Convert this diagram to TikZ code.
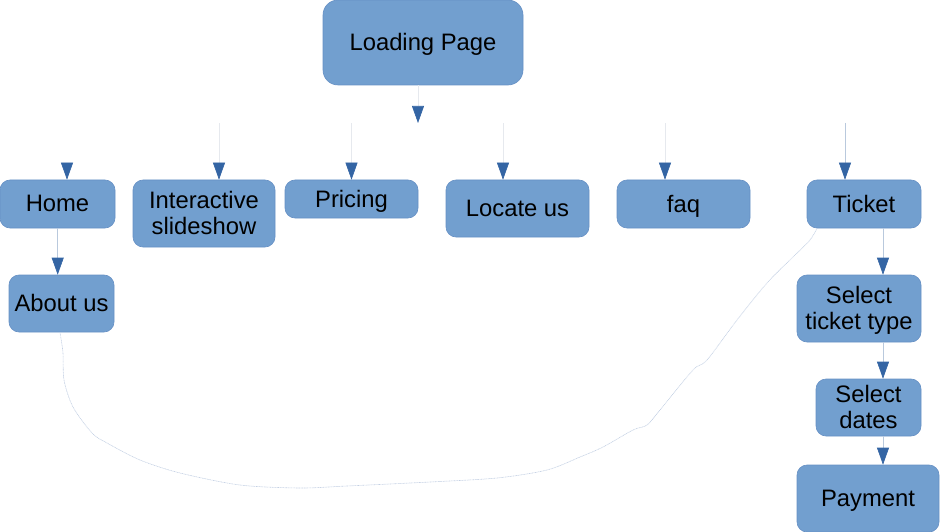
\documentclass[tikz,border=0pt]{standalone}
\usepackage{fontspec}
\setmainfont{Liberation Sans}
\usetikzlibrary{arrows.meta}
\definecolor{boxfill}{HTML}{729FCF}
\definecolor{boxline}{HTML}{6690C4}
\definecolor{tipblue}{HTML}{3465A4}
\definecolor{faintline}{HTML}{E6E9EE}
\definecolor{lightline}{HTML}{B9C9DD}
\definecolor{curveline}{HTML}{C3D0E3}
\tikzset{
  box/.style={draw=boxline, fill=boxfill, line width=0.6pt, rounded corners=10pt,
    inner sep=0pt, align=center, text depth=1pt, font=\fontsize{23.8}{26.5}\selectfont, text=black},
  arr/.style={line width=0.6pt, -{Triangle[width=12pt,length=17pt,color=tipblue]}},
  faint/.style={arr, draw=faintline},
  light/.style={arr, draw=lightline},
  curvestyle/.style={draw=curveline, line width=0.6pt, dash pattern=on 1pt off 0.6pt}
}
\begin{document}
\begin{tikzpicture}[x=1pt,y=-1pt]
\useasboundingbox (0,0) rectangle (940,532);
\node[box, rounded corners=15pt, minimum width=200pt, minimum height=85pt] (load) at (423,42.5) {Loading Page};
\node[box, minimum width=115pt, minimum height=48pt] (home) at (57.5,204) {Home};
\node[box, minimum width=142pt, minimum height=67pt] (inter) at (204,213.5) {Interactive\\slideshow};
\node[box, minimum width=133pt, minimum height=38pt] (pricing) at (351.5,199) {Pricing};
\node[box, minimum width=143pt, minimum height=57pt] (locate) at (517.5,208.5) {Locate us};
\node[box, minimum width=133pt, minimum height=48pt] (faq) at (683.5,204) {faq};
\node[box, minimum width=114pt, minimum height=48pt] (ticket) at (864,204) {Ticket};
\node[box, minimum width=105pt, minimum height=57pt] (about) at (61.5,303.5) {About us};
\node[box, minimum width=124pt, minimum height=67pt] (seltype) at (859,308.5) {Select\\ticket type};
\node[box, minimum width=105pt, minimum height=57pt] (seldates) at (868.5,407.5) {Select\\dates};
\node[box, minimum width=142pt, minimum height=67pt] (payment) at (868,498.5) {Payment};

% free ends
\coordinate (loadend) at (418,123);
\coordinate (homestart) at (67,163);
\coordinate (interstart) at (219,123);
\coordinate (pricestart) at (351.5,123);
\coordinate (locstart) at (503,123);
\coordinate (faqstart) at (665,123);
\coordinate (ticketstart) at (845,123);

\draw[faint] (load.south -| loadend) -- (loadend);
\draw[faint] (homestart) -- (home.north -| homestart);
\draw[faint] (interstart) -- (inter.north -| interstart);
\draw[faint] (pricestart) -- (pricing.north -| pricestart);
\draw[faint] (locstart) -- (locate.north -| locstart);
\draw[faint] (faqstart) -- (faq.north -| faqstart);
\draw[light] (ticketstart) -- (ticket.north -| ticketstart);

\draw[light] (home.south -| 57.7,0) -- (about.north -| 57.7,0);
\draw[light] (ticket.south -| 883,0) -- (seltype.north -| 883,0);
\draw[light] (seltype.south -| 883,0) -- (seldates.north -| 883,0);
\draw[light] (seldates.south -| 883,0) -- (payment.north -| 883,0);

\draw[curvestyle] plot[smooth, tension=0.5] coordinates {
  (about.south -| 60,0) (63,353) (64,380) (73,407) (92,433) (107,443) (140,460)
  (180,473) (240,485) (300,488) (347,486) (430,482) (497,478) (547,470)
  (580,457) (603,447) (633,430) (647,425) (660,410) (693,370) (707,360)
  (737,320) (767,283) (793,257) (810,240) (ticket.south -| 817,0)};
\end{tikzpicture}
\end{document}
